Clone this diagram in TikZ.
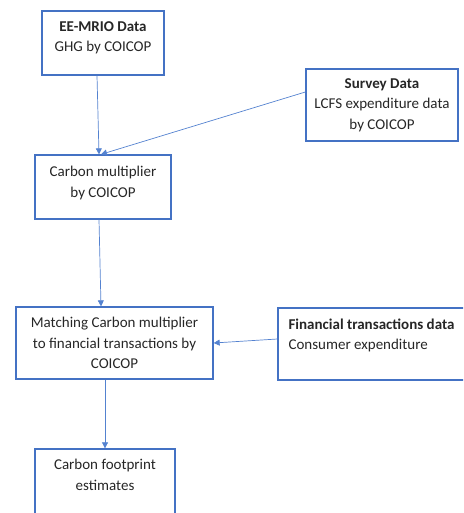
\documentclass[tikz,border=0pt]{standalone}
\usepackage{fontspec}
\setmainfont{Carlito}
\usetikzlibrary{positioning,arrows.meta}
\definecolor{boxblue}{RGB}{68,114,196}
\definecolor{lineblue}{RGB}{84,130,208}
\definecolor{textgrey}{RGB}{38,38,38}

\begin{document}
\begin{tikzpicture}[x=1pt, y=-1pt,
    box/.style={draw=boxblue, line width=1.3pt, inner sep=0pt},
    boxtext/.style={inner sep=0pt, align=center, text=textgrey,
      font=\fontsize{15}{20.5}\selectfont},
    link/.style={draw=lineblue, line width=0.7pt,
      -{Triangle[width=6pt,length=6pt]}}
  ]
    % Page frame (the right and bottom boxes run off the page)
    \useasboundingbox (0,0) rectangle (463,513);
    \clip (0,0) rectangle (463,513);

    % Boxes
    \node[box, minimum width=122, minimum height=64] (mrio) at (103,43) {};
    \node[box, minimum width=152, minimum height=72] (survey) at (382,105) {};
    \node[box, minimum width=136, minimum height=64] (mult) at (103,187) {};
    \node[box, minimum width=197, minimum height=72] (match) at (114.5,343) {};
    \node[box, minimum width=198, minimum height=72] (fin) at (377,344) {};
    \node[box, minimum width=140, minimum height=72] (foot) at (105,485) {};

    % Texts, set near the top of each box
    \node[boxtext, below=11pt of mrio.north] (mriotext)
      {\textbf{EE-MRIO Data}\\GHG by COICOP};
    \node[boxtext, below=10pt of survey.north] (surveytext)
      {\textbf{Survey Data}\\LCFS expenditure data\\by COICOP};
    \node[boxtext, below=12pt of mult.north] (multtext)
      {Carbon multiplier\\by COICOP};
    \node[boxtext, below=11pt of match.north] (matchtext)
      {Matching Carbon multiplier\\to financial transactions by\\COICOP};
    \node[boxtext, align=left, below right=11pt and 11pt of fin.north west] (fintext)
      {\textbf{Financial transactions data}\\Consumer expenditure};
    \node[boxtext, below=11pt of foot.north] (foottext)
      {Carbon footprint\\estimates};

    % Connectors
    \draw[link] ([xshift=-6pt]mrio.south) -- ([xshift=-4pt]mult.north);
    \draw[link] ([yshift=13pt]survey.west) -- ([xshift=-2pt]mult.north);
    \draw[link] ([xshift=-4pt]mult.south) -- ([xshift=-13.5pt]match.north);
    \draw[link] ([yshift=5pt]fin.west) -- (match.east);
    \draw[link] ([xshift=-9.5pt]match.south) -- (foot.north);
  \end{tikzpicture}
\end{document}
